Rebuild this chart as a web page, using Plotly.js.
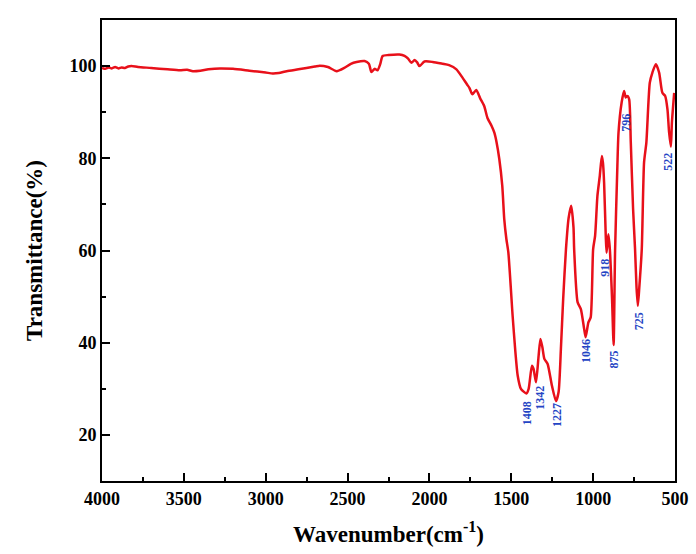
<!DOCTYPE html>
<html>
<head>
<meta charset="utf-8">
<script src="https://cdn.plot.ly/plotly-3.0.1.min.js"></script>
<style>html,body{margin:0;padding:0;background:#fff;}#chart{width:696px;height:554px;}</style>
</head>
<body>
<div id="chart"></div>
<script>
// FTIR spectrum
const wavenumber = [4000,3980,3960,3940,3920,3900,3880,3860,3840,3820,3780,3700,3600,3524,3480,3445,3400,3350,3280,3200,3100,3000,2957,2920,2872,2800,2700,2670,2620,2567,2520,2480,2445,2396,2370,2354,2335,2317,2300,2286,2250,2183,2152,2130,2110,2091,2075,2061,2030,1980,1920,1880,1835,1798,1770,1756,1738,1714,1690,1665,1646,1620,1604,1590,1573,1555,1543,1530,1518,1492,1475,1461,1441,1408,1394,1374,1364,1349,1333,1322,1310,1298,1278,1252,1227,1211,1197,1183,1166,1150,1134,1120,1116,1095,1075,1055,1046,1029,1015,1000,988,974,960,947,940,933,923,918,907,898,885,875,866,852,845,826,811,801,791,780,770,756,744,735,727,718,703,689,675,654,638,617,597,577,560,546,536,525,519,505];
const transmittance = [99.6,99.4,99.7,99.5,99.8,99.5,99.7,99.6,99.9,100.0,99.8,99.6,99.3,99.1,99.2,98.9,99.0,99.3,99.5,99.4,99.0,98.6,98.4,98.5,98.9,99.3,99.9,100.1,99.8,98.9,99.6,100.5,100.9,101.1,100.5,98.7,99.4,99.1,100.5,102.2,102.4,102.5,102.2,101.6,100.7,101.3,100.8,100.0,101.0,100.9,100.5,100.2,99.3,97.5,96.0,95.3,93.9,94.8,93.0,91.3,88.8,87.0,85.6,83.5,79.8,74.0,66.8,62.5,59.6,45.9,38.0,32.9,30.0,29.0,30.0,35.0,34.3,31.4,37.2,40.8,39.0,36.5,35.4,30.7,27.3,29.3,38.6,49.5,60.3,67.0,69.7,65.0,60.3,48.8,47.3,43.0,41.2,44.4,45.5,60.3,63.2,71.8,76.0,80.5,79.0,74.7,63.2,59.5,63.5,60.3,50.0,39.5,60.0,78.3,85.6,92.1,94.6,93.2,93.5,92.8,83.4,69.0,60.3,52.0,48.0,52.0,60.3,79.1,83.4,96.4,98.6,100.4,98.6,94.2,93.5,90.6,85.6,82.5,87.7,94.2];

// peak labels
const peakLabels = ["1408","1342","1227","1046","918","875","725","796","522"];
const peakLabelX = [1407,1329,1224,1044,933,872,719,799,547];
const peakLabelY = [24.6,28.1,24.4,38.2,56.3,36.4,44.7,87.7,79.3];

const xTicks = [4000,3500,3000,2500,2000,1500,1000,500];
const yTicks = [20,40,60,80,100];

const serif = '"Liberation Serif", "Times New Roman", Times, serif';

const annotations = peakLabels.map((t, i) => ({
  x: peakLabelX[i], y: peakLabelY[i], xref: 'x', yref: 'y',
  text: '<b>' + t + '</b>', showarrow: false, textangle: -90,
  font: {family: serif, size: 12, color: '#2444c4'}
}));

const trace = {
  x: wavenumber, y: transmittance, type: 'scatter', mode: 'lines',
  line: {color: '#e8101a', width: 2.5, shape: 'spline', smoothing: 0.6},
  hoverinfo: 'skip'
};

const layout = {
  width: 696, height: 554,
  margin: {l: 102, r: 21, t: 20, b: 73},
  paper_bgcolor: '#ffffff', plot_bgcolor: '#ffffff',
  showlegend: false,
  xaxis: {
    range: [4000, 500], tickvals: xTicks, ticktext: xTicks.map(v => '<b>' + v + '</b>'),
    ticks: 'inside', ticklen: 8, tickwidth: 2, tickcolor: '#000',
    minor: {tickvals: [3750,3250,2750,2250,1750,1250,750], ticks: 'inside', ticklen: 4, tickwidth: 2, tickcolor: '#000'},
    showline: true, linewidth: 2, linecolor: '#000', mirror: true,
    showgrid: false, zeroline: false,
    tickfont: {family: serif, size: 18, color: '#000'},
    title: {text: '<b>Wavenumber(cm<sup>-1</sup>)</b>', standoff: 18,
      font: {family: serif, size: 23, color: '#000'}}
  },
  yaxis: {
    range: [10, 110], tickvals: yTicks, ticktext: yTicks.map(v => '<b>' + v + '</b>'),
    ticks: 'inside', ticklen: 8, tickwidth: 2, tickcolor: '#000',
    minor: {tickvals: [30,50,70,90], ticks: 'inside', ticklen: 4, tickwidth: 2, tickcolor: '#000'},
    showline: true, linewidth: 2, linecolor: '#000', mirror: true,
    showgrid: false, zeroline: false,
    tickfont: {family: serif, size: 18, color: '#000'},
    title: {text: '<b>Transmittance(%)</b>', standoff: 20,
      font: {family: serif, size: 23, color: '#000'}}
  },
  annotations: annotations
};

Plotly.newPlot('chart', [trace], layout, {displayModeBar: false, staticPlot: true});
</script>
</body>
</html>
